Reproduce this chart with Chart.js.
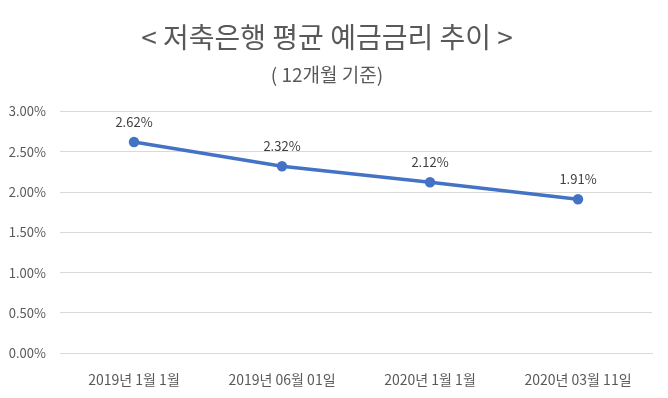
<!DOCTYPE html>
<html><head><meta charset="utf-8">
<script src="https://cdn.jsdelivr.net/npm/chart.js@4/dist/chart.umd.min.js"></script>
<style>html,body{margin:0;padding:0;background:#fff}#wrap{width:668px;height:398px}</style>
</head><body><div id="wrap"><canvas id="c" width="668" height="398"></canvas></div>
<script>
const categories = ['2019년 1월 1월', '2019년 06월 01일', '2020년 1월 1월', '2020년 03월 11일'];
const rates = [2.62, 2.32, 2.12, 1.91];
const yTicks = [0, 0.5, 1.0, 1.5, 2.0, 2.5, 3.0];
const titleText = '< 저축은행 평균 예금금리 추이 >';
const subtitleText = '( 12개월 기준)';

const FONT = "'Noto Sans CJK KR', 'Noto Sans', sans-serif";

const labelPlugin = {
  id: 'valueLabels',
  afterDatasetsDraw(chart) {
    const ctx = chart.ctx;
    const meta = chart.getDatasetMeta(0);
    ctx.save();
    ctx.font = '13px ' + FONT;
    ctx.fillStyle = '#404040';
    ctx.textAlign = 'center';
    ctx.textBaseline = 'middle';
    meta.data.forEach((pt, i) => {
      ctx.fillText(rates[i].toFixed(2) + '%', pt.x, pt.y - 20);
    });
    ctx.restore();
  }
};

new Chart(document.getElementById('c'), {
  type: 'line',
  data: {
    labels: categories,
    datasets: [{
      data: rates,
      borderColor: '#4472C4',
      backgroundColor: '#4472C4',
      borderWidth: 3.5,
      pointRadius: 3.5,
      pointBackgroundColor: '#4472C4',
      pointBorderColor: '#4472C4',
      tension: 0
    }]
  },
  options: {
    responsive: false,
    animation: false,
    layout: { padding: { left: 2, right: 16, top: 0, bottom: 0 } },
    plugins: {
      legend: { display: false },
      tooltip: { enabled: false },
      title: {
        display: true, text: titleText, color: '#595959',
        font: { family: FONT, size: 28, weight: 'normal' },
        padding: { top: 21, bottom: 6 }
      },
      subtitle: {
        display: true, text: subtitleText, color: '#595959',
        font: { family: FONT, size: 19, weight: 'normal' },
        padding: { top: 3, bottom: 25 }
      }
    },
    scales: {
      x: {
        offset: true,
        grid: { display: false },
        border: { display: true, color: '#d9d9d9' },
        ticks: { color: '#595959', font: { family: FONT, size: 14 }, padding: 10, maxRotation: 0 }
      },
      y: {
        min: 0, max: 3,
        afterBuildTicks(axis) { axis.ticks = yTicks.map(v => ({ value: v })); },
        afterFit(axis) { axis.width = 58; },
        grid: { color: '#d9d9d9', drawTicks: false, lineWidth: 1 },
        border: { display: false },
        ticks: {
          color: '#595959', font: { family: FONT, size: 13 }, padding: 14,
          callback: v => v.toFixed(2) + '%'
        }
      }
    }
  },
  plugins: [labelPlugin]
});
</script></body></html>
